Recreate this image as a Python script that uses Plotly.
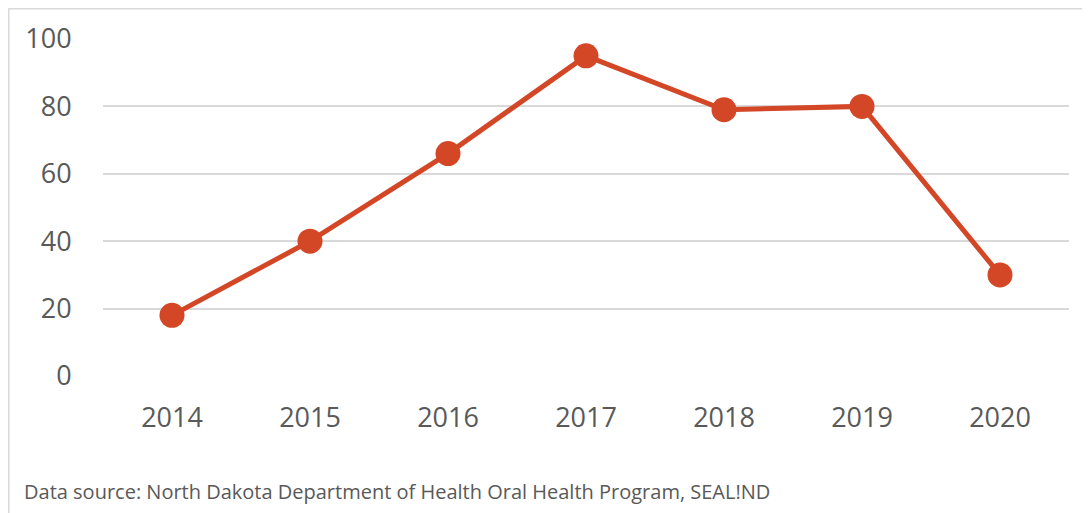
import plotly.graph_objects as go

years = ["2014", "2015", "2016", "2017", "2018", "2019", "2020"]
values = [18, 40, 66, 95, 79, 80, 30]
y_ticks = [0, 20, 40, 60, 80, 100]
source_text = "Data source: North Dakota Department of Health Oral Health Program, SEAL!ND"

W, H = 1090, 513
L, R, T, B = 95, 29, 31, 145
pw, ph = W - L - R, H - T - B

def px_to_paper_x(px):
    return (px - L) / pw

def px_to_paper_y(py):
    return (H - B - py) / ph

fig = go.Figure()
fig.add_trace(go.Scatter(
    x=years, y=values, mode="lines+markers",
    line=dict(color="#D34727", width=5),
    marker=dict(color="#D34727", size=25),
    cliponaxis=False, showlegend=False,
))

font_family = "Open Sans, Noto Sans, sans-serif"
fig.update_layout(
    width=W, height=H,
    margin=dict(l=L, r=R, t=T, b=B),
    paper_bgcolor="white", plot_bgcolor="white",
    font=dict(family=font_family, color="#595959"),
    xaxis=dict(
        type="category", range=[-0.5, 6.5], showgrid=False, zeroline=False,
        showline=False, tickfont=dict(size=27, color="#595959"),
        ticks="outside", ticklen=18, tickcolor="rgba(0,0,0,0)",
    ),
    yaxis=dict(
        range=[0, 100], tickvals=y_ticks, showgrid=True, gridcolor="#D9D9D9",
        gridwidth=2, zeroline=False, showline=False,
        tickfont=dict(size=27, color="#595959"),
        ticks="outside", ticklen=25, tickcolor="rgba(0,0,0,0)",
    ),
    shapes=[
        dict(type="line", xref="paper", yref="paper",
             x0=px_to_paper_x(0.5), x1=px_to_paper_x(1100),
             y0=px_to_paper_y(0.5), y1=px_to_paper_y(0.5),
             line=dict(color="#D9D9D9", width=2)),
        dict(type="line", xref="paper", yref="paper",
             x0=px_to_paper_x(0.5), x1=px_to_paper_x(0.5),
             y0=px_to_paper_y(0.5), y1=px_to_paper_y(520),
             line=dict(color="#D9D9D9", width=2)),
    ],
    annotations=[
        dict(text=source_text, xref="paper", yref="paper",
             x=px_to_paper_x(14), y=px_to_paper_y(484),
             xanchor="left", yanchor="middle", showarrow=False,
             font=dict(size=20, color="#595959", family=font_family)),
    ],
)

fig.write_html("out.html")
